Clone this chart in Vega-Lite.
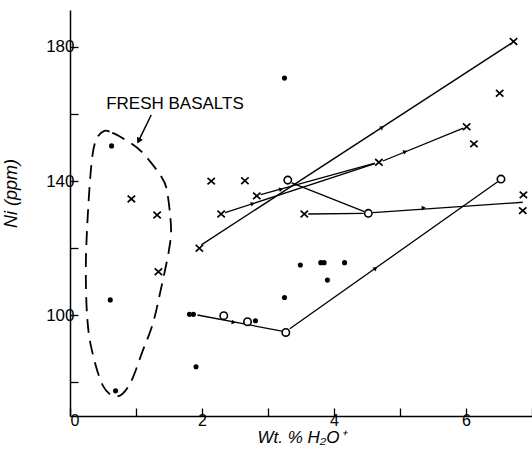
{
  "$schema": "https://vega.github.io/schema/vega-lite/v6.json",
  "width": 462,
  "height": 406,
  "autosize": {"type": "none"},
  "padding": {"left": 70, "top": 10, "right": 0, "bottom": 38},
  "background": "white",
  "config": {"view": {"stroke": null}, "font": "Liberation Sans"},
  "datasets": {
    "pts": [
      {"x": 0.63, "y": 150.5, "kind": "dot"},
      {"x": 0.61, "y": 104.6, "kind": "dot"},
      {"x": 0.69, "y": 77.5, "kind": "dot"},
      {"x": 3.25, "y": 170.7, "kind": "dot"},
      {"x": 3.49, "y": 115.0, "kind": "dot"},
      {"x": 3.80, "y": 115.7, "kind": "dot"},
      {"x": 3.85, "y": 115.7, "kind": "dot"},
      {"x": 4.16, "y": 115.7, "kind": "dot"},
      {"x": 3.90, "y": 110.5, "kind": "dot"},
      {"x": 3.25, "y": 105.3, "kind": "dot"},
      {"x": 1.81, "y": 100.3, "kind": "dot"},
      {"x": 1.87, "y": 100.3, "kind": "dot"},
      {"x": 2.81, "y": 98.4, "kind": "dot"},
      {"x": 1.91, "y": 84.7, "kind": "dot"},
      {"x": 0.93, "y": 134.7, "kind": "cross"},
      {"x": 1.32, "y": 129.9, "kind": "cross"},
      {"x": 1.34, "y": 113.0, "kind": "cross"},
      {"x": 2.14, "y": 140.0, "kind": "cross"},
      {"x": 2.65, "y": 140.1, "kind": "cross"},
      {"x": 2.83, "y": 135.6, "kind": "cross"},
      {"x": 2.29, "y": 130.2, "kind": "cross"},
      {"x": 3.55, "y": 130.2, "kind": "cross"},
      {"x": 1.96, "y": 120.0, "kind": "cross"},
      {"x": 4.68, "y": 145.6, "kind": "cross"},
      {"x": 6.01, "y": 156.2, "kind": "cross"},
      {"x": 6.12, "y": 151.1, "kind": "cross"},
      {"x": 6.72, "y": 181.6, "kind": "cross"},
      {"x": 6.51, "y": 166.2, "kind": "cross"},
      {"x": 6.87, "y": 135.9, "kind": "cross"},
      {"x": 6.86, "y": 131.2, "kind": "cross"},
      {"x": 3.30, "y": 140.3, "kind": "ring"},
      {"x": 4.52, "y": 130.4, "kind": "ring"},
      {"x": 6.53, "y": 140.6, "kind": "ring"},
      {"x": 2.33, "y": 99.9, "kind": "ring"},
      {"x": 2.69, "y": 98.1, "kind": "ring"},
      {"x": 3.27, "y": 94.9, "kind": "ring"}
    ],
    "segs": [
      {"seg": "L1", "x": 1.99, "y": 121.0, "x2": 6.68, "y2": 181.0},
      {"seg": "L2a", "x": 2.35, "y": 130.6, "x2": 4.62, "y2": 145.2},
      {"seg": "L2b", "x": 2.89, "y": 136.0, "x2": 4.62, "y2": 145.4},
      {"seg": "L2c", "x": 4.74, "y": 146.0, "x2": 5.96, "y2": 155.8},
      {"seg": "L3", "x": 3.36, "y": 139.5, "x2": 4.46, "y2": 130.9},
      {"seg": "L4", "x": 3.61, "y": 130.2, "x2": 4.45, "y2": 130.4},
      {"seg": "L5", "x": 4.59, "y": 130.6, "x2": 6.86, "y2": 133.7},
      {"seg": "L6", "x": 3.33, "y": 96.0, "x2": 6.48, "y2": 139.8},
      {"seg": "L7", "x": 1.93, "y": 100.1, "x2": 3.21, "y2": 95.3}
    ],
    "arrows": [
      {"seg": "L1", "x": 4.73, "y": 156.0},
      {"seg": "L2a", "x": 2.77, "y": 133.3},
      {"seg": "L2b", "x": 3.20, "y": 137.6},
      {"seg": "L2c", "x": 5.08, "y": 148.8},
      {"seg": "L5", "x": 5.36, "y": 132.0},
      {"seg": "L6", "x": 4.63, "y": 114.0},
      {"seg": "L7", "x": 2.48, "y": 97.9}
    ],
    "loop": [
      {"o": 1, "x": 0.52, "y": 155.0},
      {"o": 2, "x": 0.64, "y": 154.4},
      {"o": 3, "x": 0.80, "y": 152.8},
      {"o": 4, "x": 1.083, "y": 148.8},
      {"o": 5, "x": 1.385, "y": 141.3},
      {"o": 6, "x": 1.47, "y": 137.0},
      {"o": 7, "x": 1.53, "y": 126.4},
      {"o": 8, "x": 1.50, "y": 119.5},
      {"o": 9, "x": 1.385, "y": 108.5},
      {"o": 10, "x": 1.258, "y": 97.7},
      {"o": 11, "x": 1.107, "y": 89.7},
      {"o": 12, "x": 0.906, "y": 79.5},
      {"o": 13, "x": 0.71, "y": 75.8},
      {"o": 14, "x": 0.50, "y": 79.0},
      {"o": 15, "x": 0.33, "y": 89.7},
      {"o": 16, "x": 0.26, "y": 99.6},
      {"o": 17, "x": 0.24, "y": 114.5},
      {"o": 18, "x": 0.27, "y": 130.0},
      {"o": 19, "x": 0.33, "y": 146.0},
      {"o": 20, "x": 0.40, "y": 152.5}
    ],
    "note": [{"x": 1.59, "y": 163.0, "label": "FRESH BASALTS"}],
    "pointer": [{"x": 1.23, "y": 159.7, "x2": 1.03, "y2": 151.6}],
    "pointerHead": [{"x": 1.04, "y": 152.0}]
  },
  "layer": [
    {
      "data": {"name": "loop"},
      "mark": {"type": "line", "color": "black", "strokeWidth": 1.8, "strokeDash": [14, 8], "interpolate": "cardinal-closed"},
      "encoding": {
        "x": {
          "field": "x", "type": "quantitative",
          "scale": {"domain": [0, 7], "nice": false, "zero": false},
          "axis": {
            "values": [0, 1, 2, 3, 4, 5, 6, 7],
            "format": "d",
            "labelExpr": "datum.value % 2 == 0 ? datum.label : ''",
            "grid": false, "domainColor": "black", "domainWidth": 1.5,
            "tickColor": "black", "tickWidth": 1.3, "tickSize": -8,
            "labelPadding": 4, "labelFontSize": 16, "labelColor": "black",
            "labelFont": "Liberation Sans",
            "title": "Wt. % H₂O⁺", "titleFontStyle": "italic", "titleFontWeight": "normal",
            "titleFontSize": 17, "titleColor": "black", "titlePadding": 1, "titleFont": "Liberation Sans"
          }
        },
        "y": {
          "field": "y", "type": "quantitative",
          "scale": {"domain": [70, 191], "nice": false, "zero": false},
          "axis": {
            "values": [80, 100, 120, 140, 160, 180],
            "format": "d",
            "labelExpr": "datum.value % 40 == 20 ? datum.label : ''",
            "grid": false, "domainColor": "black", "domainWidth": 1.5,
            "tickColor": "black", "tickWidth": 1.3, "tickSize": -8,
            "labelPadding": 4, "labelFontSize": 17, "labelColor": "black",
            "labelFont": "Liberation Sans",
            "title": "Ni (ppm)", "titleFontStyle": "italic", "titleFontWeight": "normal",
            "titleFontSize": 18, "titleColor": "black", "titleFont": "Liberation Sans",
            "titleX": -50, "titleY": 183
          }
        },
        "order": {"field": "o", "type": "quantitative"}
      }
    },
    {
      "data": {"name": "segs"},
      "mark": {"type": "rule", "color": "black", "strokeWidth": 1.3},
      "encoding": {
        "x": {"field": "x", "type": "quantitative"},
        "y": {"field": "y", "type": "quantitative"},
        "x2": {"field": "x2"},
        "y2": {"field": "y2"}
      }
    },
    {
      "data": {"name": "pointer"},
      "mark": {"type": "rule", "color": "black", "strokeWidth": 1.5},
      "encoding": {
        "x": {"field": "x", "type": "quantitative"},
        "y": {"field": "y", "type": "quantitative"},
        "x2": {"field": "x2"},
        "y2": {"field": "y2"}
      }
    },
    {
      "data": {"name": "pointerHead"},
      "mark": {"type": "point", "shape": "triangle-right", "filled": true, "color": "black", "size": 45, "angle": 117, "opacity": 1},
      "encoding": {
        "x": {"field": "x", "type": "quantitative"},
        "y": {"field": "y", "type": "quantitative"}
      }
    },
    {
      "data": {"name": "arrows"},
      "transform": [{"filter": "datum.seg == 'L1'"}],
      "mark": {"type": "point", "shape": "triangle-right", "filled": true, "color": "black", "size": 22, "angle": 327, "opacity": 1},
      "encoding": {"x": {"field": "x", "type": "quantitative"}, "y": {"field": "y", "type": "quantitative"}}
    },
    {
      "data": {"name": "arrows"},
      "transform": [{"filter": "datum.seg == 'L2a'"}],
      "mark": {"type": "point", "shape": "triangle-right", "filled": true, "color": "black", "size": 22, "angle": 342, "opacity": 1},
      "encoding": {"x": {"field": "x", "type": "quantitative"}, "y": {"field": "y", "type": "quantitative"}}
    },
    {
      "data": {"name": "arrows"},
      "transform": [{"filter": "datum.seg == 'L2b'"}],
      "mark": {"type": "point", "shape": "triangle-right", "filled": true, "color": "black", "size": 22, "angle": 345, "opacity": 1},
      "encoding": {"x": {"field": "x", "type": "quantitative"}, "y": {"field": "y", "type": "quantitative"}}
    },
    {
      "data": {"name": "arrows"},
      "transform": [{"filter": "datum.seg == 'L2c'"}],
      "mark": {"type": "point", "shape": "triangle-right", "filled": true, "color": "black", "size": 22, "angle": 338, "opacity": 1},
      "encoding": {"x": {"field": "x", "type": "quantitative"}, "y": {"field": "y", "type": "quantitative"}}
    },
    {
      "data": {"name": "arrows"},
      "transform": [{"filter": "datum.seg == 'L5'"}],
      "mark": {"type": "point", "shape": "triangle-right", "filled": true, "color": "black", "size": 22, "angle": 356, "opacity": 1},
      "encoding": {"x": {"field": "x", "type": "quantitative"}, "y": {"field": "y", "type": "quantitative"}}
    },
    {
      "data": {"name": "arrows"},
      "transform": [{"filter": "datum.seg == 'L6'"}],
      "mark": {"type": "point", "shape": "triangle-right", "filled": true, "color": "black", "size": 22, "angle": 325, "opacity": 1},
      "encoding": {"x": {"field": "x", "type": "quantitative"}, "y": {"field": "y", "type": "quantitative"}}
    },
    {
      "data": {"name": "arrows"},
      "transform": [{"filter": "datum.seg == 'L7'"}],
      "mark": {"type": "point", "shape": "triangle-right", "filled": true, "color": "black", "size": 22, "angle": 11, "opacity": 1},
      "encoding": {"x": {"field": "x", "type": "quantitative"}, "y": {"field": "y", "type": "quantitative"}}
    },
    {
      "data": {"name": "pts"},
      "transform": [{"filter": "datum.kind == 'dot'"}],
      "mark": {"type": "point", "shape": "circle", "filled": true, "color": "black", "size": 26, "opacity": 1},
      "encoding": {"x": {"field": "x", "type": "quantitative"}, "y": {"field": "y", "type": "quantitative"}}
    },
    {
      "data": {"name": "pts"},
      "transform": [{"filter": "datum.kind == 'ring'"}],
      "mark": {"type": "point", "shape": "circle", "filled": true, "fill": "white", "stroke": "black", "strokeWidth": 1.6, "size": 55, "opacity": 1},
      "encoding": {"x": {"field": "x", "type": "quantitative"}, "y": {"field": "y", "type": "quantitative"}}
    },
    {
      "data": {"name": "pts"},
      "transform": [{"filter": "datum.kind == 'cross'"}],
      "mark": {"type": "point", "shape": "M-1,-0.9L1,0.9M-1,0.9L1,-0.9", "filled": false, "stroke": "black", "strokeWidth": 1.7, "size": 55, "opacity": 1},
      "encoding": {"x": {"field": "x", "type": "quantitative"}, "y": {"field": "y", "type": "quantitative"}}
    },
    {
      "data": {"name": "note"},
      "mark": {"type": "text", "font": "Liberation Sans", "fontSize": 17, "color": "black", "align": "center", "baseline": "middle"},
      "encoding": {
        "x": {"field": "x", "type": "quantitative"},
        "y": {"field": "y", "type": "quantitative"},
        "text": {"field": "label"}
      }
    }
  ]
}
